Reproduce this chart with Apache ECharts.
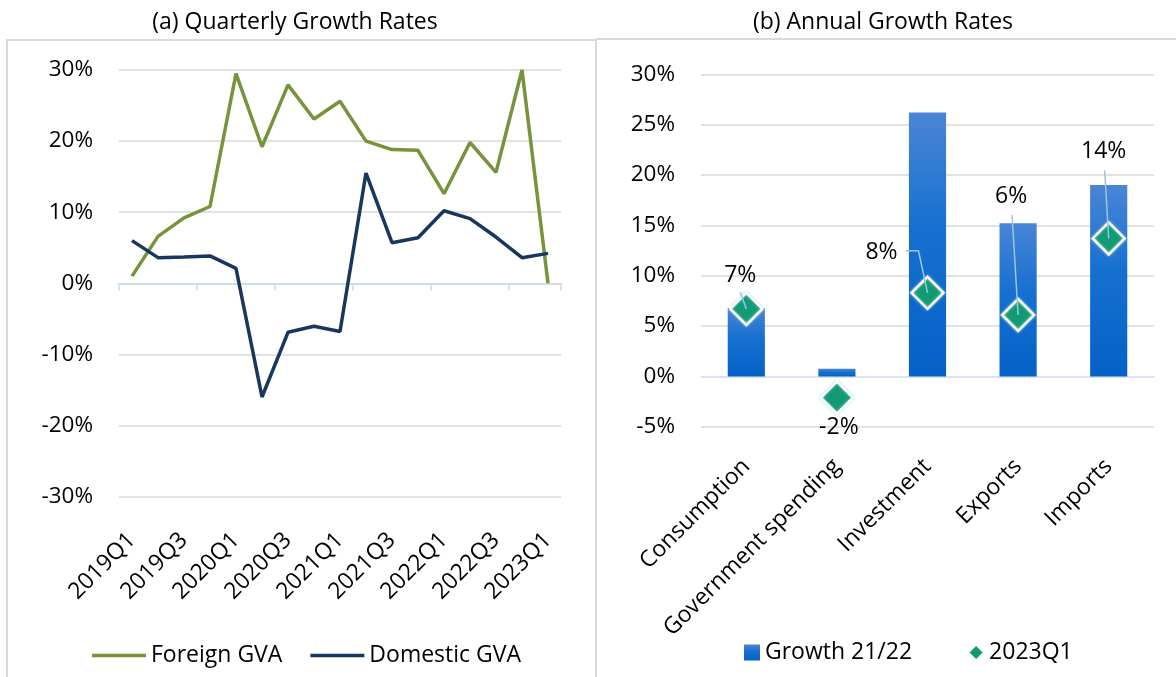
<!DOCTYPE html>
<html>
<head>
<meta charset="utf-8">
<title>Growth Rates</title>
<script src="https://cdn.jsdelivr.net/npm/echarts@6/dist/echarts.min.js"></script>
<style>
  html, body { margin: 0; padding: 0; background: #fff; }
  #chart { width: 1176px; height: 677px; }
</style>
</head>
<body>
<div id="chart"></div>
<script>
// Panel (a): quarterly growth, percent
const quarters = ['2019Q1', '2019Q2', '2019Q3', '2019Q4', '2020Q1', '2020Q2', '2020Q3', '2020Q4',
  '2021Q1', '2021Q2', '2021Q3', '2021Q4', '2022Q1', '2022Q2', '2022Q3', '2022Q4', '2023Q1'];
const foreignGVA = [1.0, 6.6, 9.2, 10.8, 29.5, 19.2, 27.9, 23.1, 25.6, 20.0, 18.8, 18.7, 12.6, 19.8, 15.6, 30.0, 0.0];
const domesticGVA = [6.0, 3.6, 3.7, 3.85, 2.1, -16.0, -6.9, -6.05, -6.8, 15.5, 5.7, 6.4, 10.2, 9.1, 6.5, 3.6, 4.2];

// Panel (b): annual growth by expenditure component, percent
const components = ['Consumption', 'Government spending', 'Investment', 'Exports', 'Imports'];
const growth2122 = [6.8, 0.76, 26.2, 15.2, 19.0];
const latestQ1 = [6.7, -2.1, 8.3, 6.1, 13.7];

const FONT = '"Open Sans", "Noto Sans", sans-serif';
const FS = 23;        // text size for titles, legends and category labels
const FS_NUM = 22.5;  // text size for the value axes
const GRID_LINE = '#d9d9d9';
const ZERO_LINE = '#c5dcf0';
const LEADER = '#9dc3e6';

// Where each 2023Q1 label sits relative to its diamond, and the leader line drawn to it
const calloutLayout = [
  { dx: -6, dy: -34, line: [[-6, -17], [0, 0]] },
  { dx: 2, dy: 30, line: null },
  { dx: -46, dy: -40, line: [[-22, -42], [-9, -42], [0, 0]] },
  { dx: -7, dy: -119, line: [[-6, -100], [0, 0]] },
  { dx: -5, dy: -87, line: [[-4, -68], [0, 0]] }
];

const chart = echarts.init(document.getElementById('chart'), null, { renderer: 'canvas' });

const pct = v => v + '%';

function titleText(text, x) {
  return {
    type: 'text', x: x, y: 22, silent: true,
    style: { text: text, font: FS + 'px ' + FONT, fill: '#000',
      align: 'center', verticalAlign: 'middle', textAlign: 'center', textVerticalAlign: 'middle' }
  };
}

chart.setOption({
  animation: false,
  textStyle: { fontFamily: FONT, color: '#000' },
  graphic: [
    { type: 'rect', shape: { x: 7, y: 40, width: 589, height: 660 },
      style: { fill: 'none', stroke: GRID_LINE, lineWidth: 2 }, silent: true },
    { type: 'line', shape: { x1: 596, y1: 39, x2: 1176, y2: 39 },
      style: { stroke: GRID_LINE, lineWidth: 2 }, silent: true },
    titleText('(a) Quarterly Growth Rates', 295),
    titleText('(b) Annual Growth Rates', 883)
  ],
  legend: [
    {
      left: 92, top: 644, padding: 0, itemWidth: 54, itemHeight: 3.5, itemGap: 28,
      textStyle: { fontSize: FS, fontFamily: FONT, color: '#000' },
      data: [{ name: 'Foreign GVA', icon: 'rect' }, { name: 'Domestic GVA', icon: 'rect' }]
    },
    {
      left: 744, top: 641, padding: 0, itemWidth: 16, itemHeight: 16, itemGap: 55,
      textStyle: { fontSize: FS, fontFamily: FONT, color: '#000' },
      data: [{ name: 'Growth 21/22', icon: 'rect' }, { name: '2023Q1', icon: 'diamond' }]
    }
  ],
  grid: [
    { left: 119, top: 70, width: 442, height: 426.5 },
    { left: 701, top: 74.3, width: 453, height: 352.5 }
  ],
  xAxis: [
    { // zero line with boundary ticks
      type: 'category', gridIndex: 0, data: quarters, position: 'bottom',
      axisLine: { onZero: true, lineStyle: { color: ZERO_LINE, width: 1.5 } },
      axisTick: { show: true, length: 7, lineStyle: { color: ZERO_LINE, width: 1.5 } },
      axisLabel: { show: false }, splitLine: { show: false }
    },
    { // quarter labels along the bottom
      type: 'category', gridIndex: 0, data: quarters, position: 'bottom',
      axisLine: { show: false, onZero: false }, axisTick: { show: false },
      axisLabel: { interval: 1, rotate: 45, margin: 40, fontSize: FS, fontFamily: FONT, color: '#000' }
    },
    {
      type: 'category', gridIndex: 1, data: components, position: 'bottom',
      axisLine: { onZero: true, lineStyle: { color: '#d6e6f5', width: 1.5 } },
      axisTick: { show: false }, axisLabel: { show: false }
    },
    {
      type: 'category', gridIndex: 1, data: components, position: 'bottom',
      axisLine: { show: false, onZero: false }, axisTick: { show: false },
      axisLabel: { interval: 0, rotate: 45, margin: 36, fontSize: FS, fontFamily: FONT, color: '#000' }
    }
  ],
  yAxis: [
    {
      type: 'value', gridIndex: 0, min: -30, max: 30, interval: 10,
      axisLine: { show: false }, axisTick: { show: false },
      axisLabel: { formatter: pct, margin: 26, fontSize: FS_NUM, fontFamily: FONT, color: '#000' },
      splitLine: { lineStyle: { color: GRID_LINE, width: 1.5 } }
    },
    {
      type: 'value', gridIndex: 1, min: -5, max: 30, interval: 5,
      axisLine: { show: false }, axisTick: { show: false },
      axisLabel: { formatter: pct, margin: 26, fontSize: FS_NUM, fontFamily: FONT, color: '#000' },
      splitLine: { lineStyle: { color: GRID_LINE, width: 1.5 } }
    }
  ],
  series: [
    {
      name: 'Foreign GVA', type: 'line', xAxisIndex: 0, yAxisIndex: 0,
      data: foreignGVA, symbol: 'none',
      lineStyle: { color: '#77933c', width: 3.5 }, itemStyle: { color: '#77933c' }
    },
    {
      name: 'Domestic GVA', type: 'line', xAxisIndex: 0, yAxisIndex: 0,
      data: domesticGVA, symbol: 'none',
      lineStyle: { color: '#17375e', width: 3.5 }, itemStyle: { color: '#17375e' }
    },
    {
      name: 'Growth 21/22', type: 'bar', xAxisIndex: 2, yAxisIndex: 1,
      data: growth2122, barWidth: '41%',
      itemStyle: {
        color: new echarts.graphic.LinearGradient(0, 0, 0, 1, [
          { offset: 0, color: '#4a85d6' },
          { offset: 0.45, color: '#1570d0' },
          { offset: 1, color: '#0561c6' }
        ])
      }
    },
    {
      name: '2023Q1', type: 'scatter', xAxisIndex: 2, yAxisIndex: 1,
      data: latestQ1, symbol: 'diamond', symbolSize: 32, z: 5,
      itemStyle: {
        color: '#129a74', opacity: 1, borderColor: '#ffffff', borderWidth: 2.5,
        shadowBlur: 3, shadowColor: 'rgba(160, 220, 225, 0.8)'
      }
    },
    { // value callouts for the 2023Q1 diamonds
      type: 'custom', xAxisIndex: 2, yAxisIndex: 1, z: 6, silent: true,
      data: latestQ1.map((v, i) => [i, v]),
      renderItem: (params, api) => {
        const i = params.dataIndex;
        const c = api.coord([api.value(0), api.value(1)]);
        const lay = calloutLayout[i];
        const children = [];
        if (lay.line) {
          children.push({
            type: 'polyline',
            shape: { points: lay.line.map(p => [c[0] + p[0], c[1] + p[1]]) },
            style: { stroke: LEADER, lineWidth: 1.5, fill: null }
          });
        }
        children.push({
          type: 'text',
          style: {
            text: Math.round(api.value(1)) + '%',
            x: c[0] + lay.dx, y: c[1] + lay.dy,
            font: FS + 'px ' + FONT, fill: '#000',
            align: 'center', verticalAlign: 'middle'
          }
        });
        return { type: 'group', children: children };
      }
    }
  ]
});
</script>
</body>
</html>
